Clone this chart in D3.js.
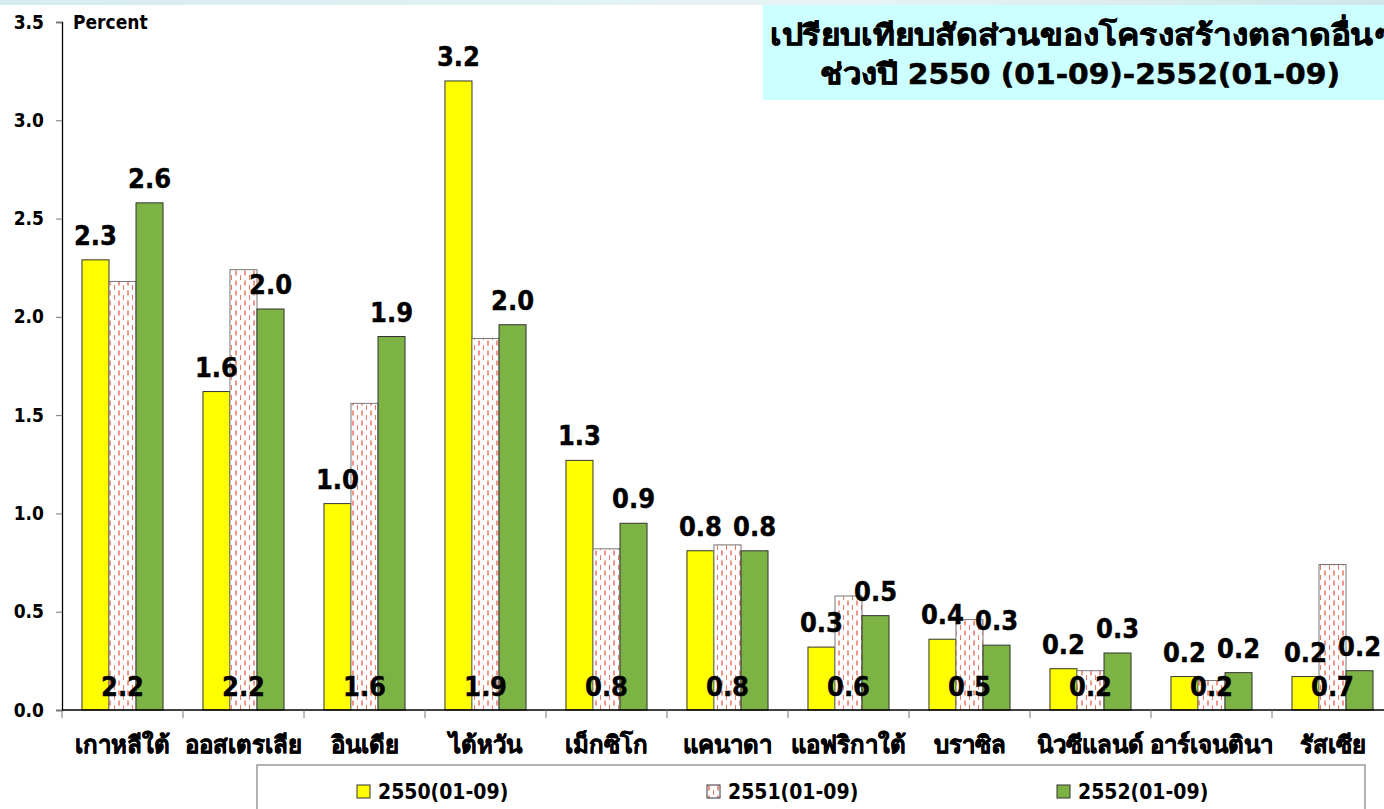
<!DOCTYPE html>
<html><head><meta charset="utf-8">
<script src="https://cdn.jsdelivr.net/npm/d3@7"></script>
<style>
html,body{margin:0;padding:0;background:#fff;overflow:hidden}
text{font-family:"DejaVu Sans Condensed","DejaVu Sans",sans-serif;font-weight:bold;fill:#000}
.thai{stroke:#000;stroke-width:0.5px}
</style></head><body>
<svg id="c" width="1384" height="809"></svg>
<script>
const categories = ["เกาหลีใต้","ออสเตรเลีย","อินเดีย","ไต้หวัน","เม็กซิโก","แคนาดา","แอฟริกาใต้","บราซิล","นิวซีแลนด์","อาร์เจนตินา","รัสเซีย"];
const seriesNames = ["2550(01-09)","2551(01-09)","2552(01-09)"];
const v2550 = [2.29,1.62,1.05,3.20,1.27,0.81,0.32,0.36,0.21,0.17,0.17];
const v2551 = [2.18,2.24,1.56,1.89,0.82,0.84,0.58,0.46,0.20,0.15,0.74];
const v2552 = [2.58,2.04,1.90,1.96,0.95,0.81,0.48,0.33,0.29,0.19,0.20];
const labels2550 = ["2.3","1.6","1.0","3.2","1.3","0.8","0.3","0.4","0.2","0.2","0.2"];
const labels2551 = ["2.2","2.2","1.6","1.9","0.8","0.8","0.6","0.5","0.2","0.2","0.7"];
const labels2552 = ["2.6","2.0","1.9","2.0","0.9","0.8","0.5","0.3","0.3","0.2","0.2"];
const yTicks = [0,0.5,1.0,1.5,2.0,2.5,3.0,3.5];
const titleLines = ["เปรียบเทียบสัดส่วนของโครงสร้างตลาดอื่นๆ","ช่วงปี 2550 (01-09)-2552(01-09)"];

const svg = d3.select("#c");
const defs = svg.append("defs");
const pat = defs.append("pattern").attr("id","dash").attr("patternUnits","userSpaceOnUse")
  .attr("width",9).attr("height",10).attr("x",0).attr("y",0);
pat.append("rect").attr("width",9).attr("height",10).attr("fill","#fff");
pat.append("line").attr("x1",2).attr("x2",2).attr("y1",0.5).attr("y2",5.5)
  .attr("stroke","#e8503a").attr("stroke-width",1.2);
pat.append("line").attr("x1",6.5).attr("x2",6.5).attr("y1",5).attr("y2",10)
  .attr("stroke","#ec7a66").attr("stroke-width",1);

// top decorative band
const g0 = defs.append("linearGradient").attr("id","topband");
g0.append("stop").attr("offset","0").attr("stop-color","#d6ecef");
g0.append("stop").attr("offset","0.6").attr("stop-color","#e8f4f6");
g0.append("stop").attr("offset","1").attr("stop-color","#cfe6ea");
svg.append("rect").attr("x",0).attr("y",0).attr("width",1384).attr("height",5).attr("fill","url(#topband)");

const x0 = d3.scaleBand().domain(categories).range([62,1393]).paddingInner(0.33).paddingOuter(0.165);
const x1 = d3.scaleBand().domain(seriesNames).range([0,x0.bandwidth()]);
const y = d3.scaleLinear().domain([0,3.5]).range([710,22]);

const fills = ["#ffff00","url(#dash)","#7db244"];
const data = [v2550,v2551,v2552];

// bars
seriesNames.forEach((s,si)=>{
  svg.append("g").selectAll("rect").data(categories).join("rect")
    .attr("x",c=>x0(c)+x1(s))
    .attr("y",(c,i)=>y(data[si][i]))
    .attr("width",x1.bandwidth())
    .attr("height",(c,i)=>y(0)-y(data[si][i]))
    .attr("fill",fills[si])
    .attr("stroke",si===1?"#777":"#333").attr("stroke-width",1);
});

// y axis
const ya = svg.append("g").attr("transform","translate(62,0)")
  .call(d3.axisLeft(y).tickValues(yTicks).tickFormat(d3.format(".1f")).tickSize(6).tickPadding(12));
ya.select(".domain").attr("stroke","#000").attr("stroke-width",1.3);
ya.selectAll(".tick line").attr("stroke","#777");
ya.selectAll(".tick text").style("font-size","19px").attr("fill","#000");

// x axis
const xa = svg.append("g").attr("transform","translate(0,710)");
xa.append("line").attr("x1",62).attr("x2",1393).attr("y1",0).attr("y2",0).attr("stroke","#000").attr("stroke-width",1.5);
const bounds = categories.map(c=>x0(c)-x0.step()*x0.paddingInner()/2).concat([1393]);
xa.selectAll("line.tk").data(bounds).join("line").attr("class","tk")
  .attr("x1",d=>d).attr("x2",d=>d).attr("y1",0).attr("y2",8).attr("stroke","#777");
xa.selectAll("text.cat").data(categories).join("text").attr("class","cat thai")
  .attr("x",c=>x0(c)+x0.bandwidth()/2).attr("y",43).attr("text-anchor","middle")
  .style("font-size","24px").text(c=>c);

svg.append("text").attr("x",73).attr("y",29).style("font-size","19px").text("Percent");

// value labels
const lab = svg.append("g").style("font-size","27px").attr("text-anchor","middle")
  .attr("stroke","#000").attr("stroke-width",0.4);
lab.selectAll("text.a").data(categories).join("text").attr("class","a")
  .attr("x",c=>x0(c)+x1(seriesNames[0])+x1.bandwidth()/2)
  .attr("y",(c,i)=>y(v2550[i])-15).text((c,i)=>labels2550[i]);
lab.selectAll("text.c").data(categories).join("text").attr("class","c")
  .attr("x",c=>x0(c)+x1(seriesNames[2])+x1.bandwidth()/2)
  .attr("y",(c,i)=>y(v2552[i])-15).text((c,i)=>labels2552[i]);
lab.selectAll("text.b").data(categories).join("text").attr("class","b")
  .attr("x",c=>x0(c)+x1(seriesNames[1])+x1.bandwidth()/2)
  .attr("y",y(0)-14).text((c,i)=>labels2551[i]);

// title box
svg.append("rect").attr("x",763).attr("y",5).attr("width",640).attr("height",95).attr("fill","#ccffff");
const tX = [1081,1080], tY = [45,84], tL = [622,520];
svg.append("g").selectAll("text").data(titleLines).join("text").attr("class","thai")
  .attr("x",(d,i)=>tX[i]).attr("y",(d,i)=>tY[i]).attr("text-anchor","middle")
  .attr("textLength",(d,i)=>tL[i]).attr("lengthAdjust","spacingAndGlyphs")
  .style("font-size","29px").text(d=>d);

// legend
svg.append("rect").attr("x",257).attr("y",765).attr("width",1108).attr("height",60)
  .attr("fill","#fff").attr("stroke","#888").attr("stroke-width",1.3);
const lx = [357,707,1057];
const lg = svg.append("g").selectAll("g").data(seriesNames).join("g")
  .attr("transform",(d,i)=>`translate(${lx[i]},785)`);
lg.append("rect").attr("width",13).attr("height",13).attr("fill",(d,i)=>fills[i]).attr("stroke","#333");
lg.append("text").attr("x",21).attr("y",14).style("font-size","21px").text(d=>d);
</script></body></html>
